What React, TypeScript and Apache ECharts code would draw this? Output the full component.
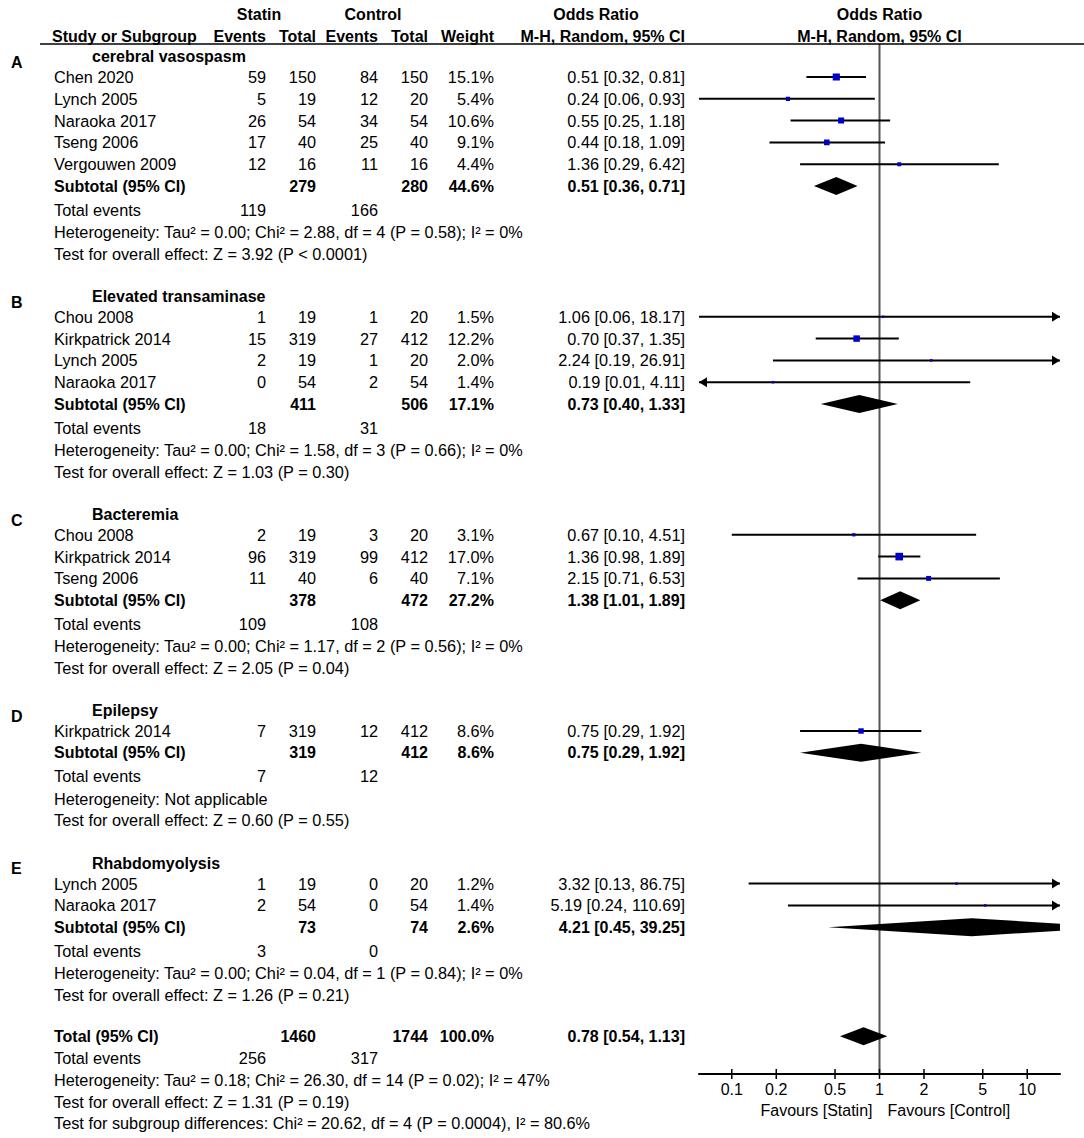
import React, { useEffect, useRef } from "react";
import * as echarts from "echarts";

// ---------------- DATA ----------------
const groupLetters = ["A", "B", "C", "D", "E"];
const groupNames = ["cerebral vasospasm", "Elevated transaminase", "Bacteremia", "Epilepsy", "Rhabdomyolysis"];

const studyGroup = [0, 0, 0, 0, 0, 1, 1, 1, 1, 2, 2, 2, 3, 4, 4];
const studyNames = [
  "Chen 2020", "Lynch 2005", "Naraoka 2017", "Tseng 2006", "Vergouwen 2009",
  "Chou 2008", "Kirkpatrick 2014", "Lynch 2005", "Naraoka 2017",
  "Chou 2008", "Kirkpatrick 2014", "Tseng 2006",
  "Kirkpatrick 2014",
  "Lynch 2005", "Naraoka 2017",
];
const statinEvents = [59, 5, 26, 17, 12, 1, 15, 2, 0, 2, 96, 11, 7, 1, 2];
const statinTotals = [150, 19, 54, 40, 16, 19, 319, 19, 54, 19, 319, 40, 319, 19, 54];
const controlEvents = [84, 12, 34, 25, 11, 1, 27, 1, 2, 3, 99, 6, 12, 0, 0];
const controlTotals = [150, 20, 54, 40, 16, 20, 412, 20, 54, 20, 412, 40, 412, 20, 54];
const studyWeights = [15.1, 5.4, 10.6, 9.1, 4.4, 1.5, 12.2, 2.0, 1.4, 3.1, 17.0, 7.1, 8.6, 1.2, 1.4];
const studyOR = [0.51, 0.24, 0.55, 0.44, 1.36, 1.06, 0.70, 2.24, 0.19, 0.67, 1.36, 2.15, 0.75, 3.32, 5.19];
const studyLow = [0.32, 0.06, 0.25, 0.18, 0.29, 0.06, 0.37, 0.19, 0.01, 0.10, 0.98, 0.71, 0.29, 0.13, 0.24];
const studyHigh = [0.81, 0.93, 1.18, 1.09, 6.42, 18.17, 1.35, 26.91, 4.11, 4.51, 1.89, 6.53, 1.92, 86.75, 110.69];

const subStatinTotals = [279, 411, 378, 319, 73];
const subControlTotals = [280, 506, 472, 412, 74];
const subStatinEvents = [119, 18, 109, 7, 3];
const subControlEvents = [166, 31, 108, 12, 0];
const subWeights = [44.6, 17.1, 27.2, 8.6, 2.6];
const subOR = [0.51, 0.73, 1.38, 0.75, 4.21];
const subLow = [0.36, 0.40, 1.01, 0.29, 0.45];
const subHigh = [0.71, 1.33, 1.89, 1.92, 39.25];
const subHeterogeneity = [
  "Heterogeneity: Tau² = 0.00; Chi² = 2.88, df = 4 (P = 0.58); I² = 0%",
  "Heterogeneity: Tau² = 0.00; Chi² = 1.58, df = 3 (P = 0.66); I² = 0%",
  "Heterogeneity: Tau² = 0.00; Chi² = 1.17, df = 2 (P = 0.56); I² = 0%",
  "Heterogeneity: Not applicable",
  "Heterogeneity: Tau² = 0.00; Chi² = 0.04, df = 1 (P = 0.84); I² = 0%",
];
const subOverall = [
  "Test for overall effect: Z = 3.92 (P < 0.0001)",
  "Test for overall effect: Z = 1.03 (P = 0.30)",
  "Test for overall effect: Z = 2.05 (P = 0.04)",
  "Test for overall effect: Z = 0.60 (P = 0.55)",
  "Test for overall effect: Z = 1.26 (P = 0.21)",
];

const totalStatinTotal = 1460;
const totalControlTotal = 1744;
const totalStatinEvents = 256;
const totalControlEvents = 317;
const totalWeight = 100.0;
const totalOR = 0.78;
const totalLow = 0.54;
const totalHigh = 1.13;
const totalHeterogeneity = "Heterogeneity: Tau² = 0.18; Chi² = 26.30, df = 14 (P = 0.02); I² = 47%";
const totalOverall = "Test for overall effect: Z = 1.31 (P = 0.19)";
const subgroupDifferences = "Test for subgroup differences: Chi² = 20.62, df = 4 (P = 0.0004), I² = 80.6%";

const axisTicks = [0.1, 0.2, 0.5, 1, 2, 5, 10];
const axisMinOR = 0.06;

// ---------------- LAYOUT ----------------
const FONT = "'Liberation Sans', Arial, Helvetica, sans-serif";
const FS = 16;
const FS_TABLE = 16.3;
const ROW0 = 77;
const ROW_H = 21.8;
const Y_MIN = -3;
const AXIS_ROW = 45.73;
const UNDERLINE_ROW = -1.51;
const LOG_MIN = Math.log10(axisMinOR);
const LOG_MAX = -LOG_MIN;
const PLOT_LEFT = 699;
const PLOT_RIGHT = 1060;

const X_LETTER = 11;
const X_GROUP = 92;
const X_NAME = 54;
const X_SE = 266;
const X_ST = 316;
const X_CE = 378;
const X_CT = 428;
const X_W = 494;
const X_OR = 685;

type TextItem = {
  row: number;
  text: string;
  x?: number;
  xVal?: number;
  dx?: number;
  align: "left" | "right" | "center";
  bold?: boolean;
  size?: number;
};

const f2 = (v: number) => v.toFixed(2);
const orText = (e: number, l: number, h: number) => `${f2(e)} [${f2(l)}, ${f2(h)}]`;

const texts: TextItem[] = [];
const studyRows: number[] = [];
const subRows: number[] = [];

// headers
const H1 = -2.88;
const H2 = -1.88;
texts.push({ row: H1, text: "Statin", x: 259, align: "center", bold: true });
texts.push({ row: H1, text: "Control", x: 373, align: "center", bold: true });
texts.push({ row: H1, text: "Odds Ratio", x: 596, align: "center", bold: true });
texts.push({ row: H1, text: "Odds Ratio", xVal: 0, align: "center", bold: true });
texts.push({ row: H2, text: "Study or Subgroup", x: 52, align: "left", bold: true });
texts.push({ row: H2, text: "Events", x: X_SE, align: "right", bold: true });
texts.push({ row: H2, text: "Total", x: X_ST, align: "right", bold: true });
texts.push({ row: H2, text: "Events", x: X_CE, align: "right", bold: true });
texts.push({ row: H2, text: "Total", x: X_CT, align: "right", bold: true });
texts.push({ row: H2, text: "Weight", x: X_W, align: "right", bold: true });
texts.push({ row: H2, text: "M-H, Random, 95% CI", x: X_OR, align: "right", bold: true });
texts.push({ row: H2, text: "M-H, Random, 95% CI", xVal: 0, align: "center", bold: true });

let row = -1;
for (let g = 0; g < groupNames.length; g++) {
  texts.push({ row: row + 0.33, text: groupLetters[g], x: X_LETTER, align: "left", bold: true });
  texts.push({ row: row + 0.08, text: groupNames[g], x: X_GROUP, align: "left", bold: true });
  row++;
  for (let i = 0; i < studyNames.length; i++) {
    if (studyGroup[i] !== g) continue;
    studyRows[i] = row;
    texts.push({ row, text: studyNames[i], x: X_NAME, align: "left", size: FS_TABLE });
    texts.push({ row, text: String(statinEvents[i]), x: X_SE, align: "right", size: FS_TABLE });
    texts.push({ row, text: String(statinTotals[i]), x: X_ST, align: "right", size: FS_TABLE });
    texts.push({ row, text: String(controlEvents[i]), x: X_CE, align: "right", size: FS_TABLE });
    texts.push({ row, text: String(controlTotals[i]), x: X_CT, align: "right", size: FS_TABLE });
    texts.push({ row, text: studyWeights[i].toFixed(1) + "%", x: X_W, align: "right", size: FS_TABLE });
    texts.push({ row, text: orText(studyOR[i], studyLow[i], studyHigh[i]), x: X_OR, align: "right", size: FS_TABLE });
    row++;
  }
  subRows[g] = row;
  texts.push({ row, text: "Subtotal (95% CI)", x: X_NAME, align: "left", bold: true });
  texts.push({ row, text: String(subStatinTotals[g]), x: X_ST, align: "right", bold: true });
  texts.push({ row, text: String(subControlTotals[g]), x: X_CT, align: "right", bold: true });
  texts.push({ row, text: subWeights[g].toFixed(1) + "%", x: X_W, align: "right", bold: true });
  texts.push({ row, text: orText(subOR[g], subLow[g], subHigh[g]), x: X_OR, align: "right", bold: true });
  row++;
  texts.push({ row: row + 0.08, text: "Total events", x: X_NAME, align: "left", size: FS_TABLE });
  texts.push({ row: row + 0.08, text: String(subStatinEvents[g]), x: X_SE, align: "right", size: FS_TABLE });
  texts.push({ row: row + 0.08, text: String(subControlEvents[g]), x: X_CE, align: "right", size: FS_TABLE });
  row++;
  texts.push({ row: row + 0.1, text: subHeterogeneity[g], x: X_NAME, align: "left", size: FS_TABLE });
  row++;
  texts.push({ row: row + 0.1, text: subOverall[g], x: X_NAME, align: "left", size: FS_TABLE });
  row++;
  row++;
}
const totalRow = row;
texts.push({ row, text: "Total (95% CI)", x: X_NAME, align: "left", bold: true });
texts.push({ row, text: String(totalStatinTotal), x: X_ST, align: "right", bold: true });
texts.push({ row, text: String(totalControlTotal), x: X_CT, align: "right", bold: true });
texts.push({ row, text: totalWeight.toFixed(1) + "%", x: X_W, align: "right", bold: true });
texts.push({ row, text: orText(totalOR, totalLow, totalHigh), x: X_OR, align: "right", bold: true });
row++;
texts.push({ row, text: "Total events", x: X_NAME, align: "left", size: FS_TABLE });
texts.push({ row, text: String(totalStatinEvents), x: X_SE, align: "right", size: FS_TABLE });
texts.push({ row, text: String(totalControlEvents), x: X_CE, align: "right", size: FS_TABLE });
row++;
texts.push({ row, text: totalHeterogeneity, x: X_NAME, align: "left", size: FS_TABLE });
row++;
texts.push({ row, text: totalOverall, x: X_NAME, align: "left", size: FS_TABLE });
row++;
texts.push({ row, text: subgroupDifferences, x: X_NAME, align: "left", size: FS_TABLE });

const FAV_ROW = 47.43;
texts.push({ row: FAV_ROW, text: "Favours [Statin]", xVal: 0, dx: -7, align: "right" });
texts.push({ row: FAV_ROW, text: "Favours [Control]", xVal: 0, dx: 8, align: "left" });

// diamond rows
const diamondData = subOR.map((v, g) => [Math.log10(v), subRows[g], Math.log10(subLow[g]), Math.log10(subHigh[g])]);
diamondData.push([Math.log10(totalOR), totalRow, Math.log10(totalLow), Math.log10(totalHigh)]);

const studyData = studyOR.map((v, i) => [
  Math.log10(v), studyRows[i], Math.log10(studyLow[i]), Math.log10(studyHigh[i]), studyWeights[i],
]);

function matchTick(v: number) {
  const t = axisTicks.find((a) => Math.abs(Math.log10(a) - v) < 1e-6);
  return t === undefined ? "" : String(t);
}

function buildOption(): any {
  const gridTop = ROW0 + Y_MIN * ROW_H;
  const gridHeight = (AXIS_ROW - Y_MIN) * ROW_H;
  return {
    animation: false,
    backgroundColor: "#ffffff",
    grid: {
      left: PLOT_LEFT,
      width: PLOT_RIGHT - PLOT_LEFT,
      top: gridTop,
      height: gridHeight,
      containLabel: false,
    },
    xAxis: {
      type: "value",
      min: LOG_MIN,
      max: LOG_MAX,
      position: "bottom",
      axisLine: { show: true, onZero: false, lineStyle: { color: "#000", width: 2 } },
      axisTick: { show: false },
      splitLine: { show: false },
      axisLabel: {
        show: true,
        customValues: axisTicks.map((t) => Math.log10(t)),
        formatter: (v: number) => matchTick(v),
        color: "#000",
        fontSize: FS,
        fontFamily: FONT,
        margin: 8,
        showMinLabel: true,
        showMaxLabel: true,
      },
    },
    yAxis: {
      type: "value",
      inverse: true,
      min: Y_MIN,
      max: AXIS_ROW,
      show: false,
    },
    series: [
      {
        type: "custom",
        name: "reference",
        z: 1,
        silent: true,
        data: [[0, 0]],
        renderItem: (_p: any, api: any) => {
          const a = api.coord([0, UNDERLINE_ROW]);
          const b = api.coord([0, AXIS_ROW]);
          return {
            type: "line",
            shape: { x1: a[0], y1: a[1], x2: b[0], y2: b[1] },
            style: { stroke: "#555555", lineWidth: 2 },
          };
        },
      },
      {
        type: "custom",
        name: "underline",
        z: 1,
        silent: true,
        clip: false,
        data: [[0, UNDERLINE_ROW]],
        renderItem: (_p: any, api: any) => {
          const a = api.coord([0, api.value(1)]);
          return {
            type: "line",
            shape: { x1: 40, y1: a[1], x2: 1084, y2: a[1] },
            style: { stroke: "#000", lineWidth: 1.5 },
          };
        },
      },
      {
        type: "custom",
        name: "ticks",
        z: 2,
        silent: true,
        clip: false,
        data: axisTicks.map((t) => [Math.log10(t), AXIS_ROW]),
        renderItem: (_p: any, api: any) => {
          const a = api.coord([api.value(0), api.value(1)]);
          return {
            type: "line",
            shape: { x1: a[0], y1: a[1] - 5, x2: a[0], y2: a[1] + 5 },
            style: { stroke: "#000", lineWidth: 1.5 },
          };
        },
      },
      {
        type: "custom",
        name: "studies",
        z: 3,
        silent: true,
        clip: true,
        data: studyData,
        renderItem: (_p: any, api: any) => {
          const r = api.value(1);
          const c = api.coord([api.value(0), r]);
          const lo = api.value(2);
          const hi = api.value(3);
          const w = api.value(4);
          const pl = api.coord([Math.max(lo, LOG_MIN), r]);
          const ph = api.coord([Math.min(hi, LOG_MAX), r]);
          const y = c[1];
          const children: any[] = [
            {
              type: "line",
              shape: { x1: pl[0], y1: y, x2: ph[0], y2: y },
              style: { stroke: "#000", lineWidth: 2 },
            },
          ];
          if (hi > LOG_MAX + 1e-6) {
            children.push({
              type: "polygon",
              shape: { points: [[ph[0], y], [ph[0] - 8, y - 5], [ph[0] - 8, y + 5]] },
              style: { fill: "#000" },
            });
          }
          if (lo < LOG_MIN - 1e-6) {
            children.push({
              type: "polygon",
              shape: { points: [[pl[0], y], [pl[0] + 8, y - 5], [pl[0] + 8, y + 5]] },
              style: { fill: "#000" },
            });
          }
          const s = Math.max(2.5, 1.85 * Math.sqrt(w));
          children.push({
            type: "rect",
            shape: { x: c[0] - s / 2, y: y - s / 2, width: s, height: s },
            style: { fill: "#0000cc" },
          });
          return { type: "group", children };
        },
      },
      {
        type: "custom",
        name: "diamonds",
        z: 3,
        silent: true,
        clip: true,
        data: diamondData,
        renderItem: (_p: any, api: any) => {
          const r = api.value(1);
          const e = api.coord([api.value(0), r]);
          const l = api.coord([Math.max(api.value(2), LOG_MIN), r]);
          const hRaw = api.value(3);
          const h = api.coord([hRaw, r]);
          const xr = api.coord([LOG_MAX, r])[0];
          const y = e[1];
          const hh = 9;
          let pts: number[][];
          if (h[0] > xr) {
            const k = hh * (1 - (xr - e[0]) / (h[0] - e[0]));
            pts = [[l[0], y], [e[0], y - hh], [xr, y - k], [xr, y + k], [e[0], y + hh]];
          } else {
            pts = [[l[0], y], [e[0], y - hh], [h[0], y], [e[0], y + hh]];
          }
          return {
            type: "polygon",
            shape: { points: pts },
            style: { fill: "#000" },
          };
        },
      },
      {
        type: "custom",
        name: "texts",
        z: 4,
        silent: true,
        clip: false,
        data: texts.map((t) => [t.xVal ?? 0, t.row]),
        renderItem: (params: any, api: any) => {
          const t = texts[params.dataIndex];
          const p = api.coord([t.xVal ?? 0, t.row]);
          const x = t.xVal !== undefined ? p[0] + (t.dx || 0) : (t.x as number);
          return {
            type: "text",
            style: {
              text: t.text,
              x,
              y: p[1],
              fill: "#000",
              fontSize: t.size ?? FS,
              fontFamily: FONT,
              fontWeight: t.bold ? "bold" : "normal",
              align: t.align,
              verticalAlign: "middle",
              textAlign: t.align,
              textVerticalAlign: "middle",
            },
          };
        },
      },
    ],
  };
}

export default function App() {
  const ref = useRef<HTMLDivElement>(null);
  useEffect(() => {
    document.body.style.margin = "0";
    if (!ref.current) return;
    const chart = echarts.init(ref.current, undefined, { renderer: "svg" });
    chart.setOption(buildOption());
    return () => chart.dispose();
  }, []);
  return <div ref={ref} style={{ width: 1084, height: 1138, background: "#fff" }} />;
}
